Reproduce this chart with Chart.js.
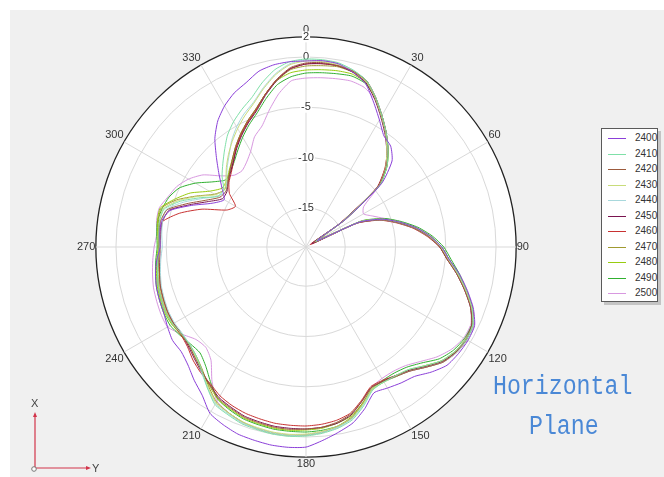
<!DOCTYPE html>
<html>
<head>
<meta charset="utf-8">
<script src="https://cdn.jsdelivr.net/npm/chart.js@4.4.1/dist/chart.umd.min.js"></script>
<style>
html, body { margin: 0; padding: 0; width: 664px; height: 477px; overflow: hidden; background: #fff; font-family: "Liberation Sans", Arial, sans-serif; }
#panel { position: absolute; left: 10px; top: 10px; width: 654px; height: 467px; background: #f0f0f0; }
#wrap { position: absolute; left: 74px; top: 21px; width: 458px; height: 452px; }
#legend { position: absolute; left: 601px; top: 128px; width: 55px; height: 172px; background: #fff; border: 1px solid #5a5a5a; box-shadow: 3px 3px 0 #c4c4c4; }
.row { position: absolute; left: 0; width: 55px; height: 15px; }
.row i { position: absolute; left: 6px; top: 7px; width: 18px; height: 0; border-top: 1px solid; }
.row span { position: absolute; left: 33px; top: 1px; font-size: 10px; color: #333; }
.tag { position: absolute; font-family: "Liberation Mono", monospace; font-size: 27px; line-height: 27px; color: #4a88d6; transform: scaleX(0.86); transform-origin: left top; white-space: nowrap; }
.ax { position: absolute; font-size: 11px; color: #444; }
</style>
</head>
<body>
<div id="panel"></div>
<div id="wrap"><canvas id="polar"></canvas></div>
<div id="legend"></div>
<div class="tag" style="left:493px; top:374px;">Horizontal</div>
<div class="tag" style="left:529px; top:414px;">Plane</div>
<svg style="position:absolute; left:0; top:0;" width="120" height="477">
  <line x1="35" y1="468" x2="35" y2="415" stroke="#d2344a" stroke-width="1.2"/>
  <polygon points="35,412 33,417 37,417" fill="#d2344a"/>
  <line x1="35" y1="468" x2="87" y2="468" stroke="#d2344a" stroke-width="1.2"/>
  <polygon points="91,468 86,466 86,470" fill="#d2344a"/>
  <circle cx="34" cy="469" r="2.3" fill="#fff" stroke="#777" stroke-width="1"/>
</svg>
<div class="ax" style="left:31px; top:397px;">X</div>
<div class="ax" style="left:92px; top:462px;">Y</div>
<script>
// angle categories (degrees, clockwise from top)
const angleLabels = [
  0, 5, 10, 15, 20, 25, 30, 35, 40, 45, 50, 55,
  60, 65, 70, 75, 80, 85, 90, 95, 100, 105, 110, 115,
  120, 125, 130, 135, 140, 145, 150, 155, 160, 165, 170, 175,
  180, 185, 190, 195, 200, 205, 210, 215, 220, 225, 230, 235,
  240, 245, 250, 255, 260, 265, 270, 275, 280, 285, 290, 295,
  300, 305, 310, 315, 320, 325, 330, 335, 340, 345, 350, 355
];

// radial axis (dB)
const rMin = -18.9;
const rMax = 2;
const tickValues = [-15, -10, -5, 0, 2];

const seriesNames = ['2400', '2410', '2420', '2430', '2440', '2450', '2460', '2470', '2480', '2490', '2500'];
const seriesColors = ['#8b3fd9', '#7fe0a8', '#9c5a3c', '#c8dc7a', '#a8d8dc', '#7a1450', '#c83232', '#a09a30', '#98cc10', '#30b030', '#d898e0'];

const s2400 = [
  -0.4, -0.3, -0.4, -0.9, -1.6, -3.0, -4.3, -5.4, -5.8, -6.8, -9.1, -14.0,
  -17.6, -13.0, -10.8, -9.3, -7.8, -6.5, -5.4, -4.6, -3.4, -2.3, -1.2, -0.4,
  -0.3, -0.4, -0.6, -1.3, -2.1, -2.4, -2.7, -2.9, -1.8, -0.8, -0.2, 0.4,
  1.0, 1.1, 1.1, 1.0, 0.9, 0.6, 0.2, -0.9, -1.6, -2.3, -2.7, -2.7,
  -3.0, -3.3, -3.4, -3.5, -3.7, -4.0, -4.4, -4.3, -4.3, -4.9, -6.8, -8.6,
  -9.5, -8.7, -7.6, -6.3, -4.8, -3.6, -2.7, -2.0, -1.5, -0.8, -0.5, -0.4
];
const s2410 = [
  -0.2, -0.2, -0.3, -0.7, -1.3, -2.5, -3.8, -5.0, -6.2, -7.5, -9.3, -14.4,
  -17.8, -12.9, -10.8, -9.3, -7.8, -6.5, -5.4, -4.6, -3.5, -2.4, -1.3, -0.6,
  -0.5, -0.8, -1.3, -2.2, -3.0, -3.3, -3.4, -3.2, -2.1, -1.1, -0.6, -0.3,
  -0.1, 0.0, 0.0, -0.1, -0.2, -0.5, -0.8, -1.8, -2.8, -3.5, -3.8, -3.8,
  -3.6, -3.5, -3.6, -3.7, -3.9, -4.1, -4.3, -4.2, -4.1, -4.3, -5.6, -7.3,
  -8.8, -8.9, -8.0, -7.2, -6.3, -5.3, -4.5, -3.8, -3.1, -2.0, -1.0, -0.4
];
const s2420 = [
  -0.6, -0.5, -0.6, -0.8, -1.3, -2.5, -3.8, -5.0, -6.2, -7.6, -9.5, -14.5,
  -18.0, -13.2, -11.0, -9.5, -8.0, -6.7, -5.6, -4.8, -3.7, -2.6, -1.5, -0.7,
  -0.5, -0.7, -1.1, -2.0, -2.8, -3.2, -3.5, -3.5, -2.6, -1.7, -1.2, -0.9,
  -0.8, -0.7, -0.7, -0.8, -0.9, -1.2, -1.5, -2.2, -2.8, -3.3, -3.7, -3.8,
  -3.7, -3.7, -3.8, -3.9, -4.1, -4.2, -4.3, -4.2, -4.2, -4.6, -6.3, -7.9,
  -9.0, -9.2, -8.8, -8.2, -7.5, -6.7, -5.9, -5.1, -4.3, -3.2, -2.0, -1.0
];
const s2430 = [
  -0.4, -0.4, -0.5, -0.8, -1.4, -2.6, -3.9, -5.1, -6.4, -7.7, -9.5, -14.2,
  -17.4, -12.9, -10.9, -9.4, -7.9, -6.6, -5.5, -4.7, -3.6, -2.5, -1.4, -0.6,
  -0.6, -0.8, -1.3, -2.2, -3.0, -3.3, -3.4, -3.3, -2.3, -1.3, -0.8, -0.5,
  -0.3, -0.2, -0.2, -0.3, -0.4, -0.7, -1.0, -1.9, -2.8, -3.4, -3.7, -3.8,
  -3.6, -3.6, -3.7, -3.8, -4.0, -4.2, -4.4, -4.3, -4.1, -4.2, -5.4, -7.0,
  -8.5, -9.0, -8.5, -7.7, -6.9, -6.1, -5.3, -4.5, -3.7, -2.6, -1.5, -0.7
];
const s2440 = [
  -0.3, -0.3, -0.4, -0.7, -1.3, -2.5, -3.8, -5.0, -6.3, -7.6, -9.4, -14.4,
  -17.6, -13.1, -11.0, -9.5, -8.0, -6.7, -5.5, -4.7, -3.6, -2.5, -1.4, -0.5,
  -0.4, -0.6, -1.1, -2.0, -2.8, -3.2, -3.4, -3.3, -2.2, -1.2, -0.7, -0.4,
  -0.2, -0.1, -0.1, -0.2, -0.3, -0.6, -0.9, -1.8, -2.7, -3.4, -3.8, -3.9,
  -3.8, -3.8, -3.9, -4.0, -4.2, -4.4, -4.6, -4.5, -4.4, -4.5, -5.9, -7.5,
  -8.8, -9.2, -8.6, -7.8, -7.0, -6.0, -5.1, -4.3, -3.6, -2.5, -1.4, -0.6
];
const s2450 = [
  -0.7, -0.6, -0.6, -0.9, -1.5, -2.7, -4.0, -5.2, -6.4, -7.7, -9.6, -14.6,
  -18.2, -13.2, -11.0, -9.5, -8.0, -6.7, -5.6, -4.8, -3.7, -2.6, -1.5, -0.7,
  -0.6, -0.7, -1.2, -2.1, -2.9, -3.3, -3.5, -3.5, -2.6, -1.6, -1.1, -0.9,
  -0.8, -0.8, -0.8, -0.9, -1.0, -1.3, -1.6, -2.2, -2.7, -3.2, -3.6, -3.8,
  -3.7, -3.7, -3.8, -3.9, -4.1, -4.3, -4.4, -4.4, -4.4, -4.8, -6.6, -8.2,
  -9.3, -9.3, -8.8, -8.3, -7.7, -6.9, -6.1, -5.3, -4.5, -3.3, -2.1, -1.1
];
const s2460 = [
  -0.7, -0.6, -0.6, -0.8, -1.3, -2.5, -3.8, -5.0, -6.3, -7.8, -9.7, -14.8,
  -18.4, -13.3, -11.1, -9.6, -8.1, -6.8, -5.6, -4.8, -3.6, -2.4, -1.3, -0.5,
  -0.4, -0.6, -1.1, -2.0, -2.8, -3.3, -3.6, -3.6, -2.7, -1.8, -1.4, -1.2,
  -1.1, -1.1, -1.1, -1.2, -1.3, -1.5, -1.8, -2.3, -2.6, -3.0, -3.5, -3.7,
  -3.6, -3.6, -3.7, -3.8, -4.0, -4.2, -4.3, -4.3, -4.4, -5.9, -7.9, -10.2,
  -10.8, -9.6, -8.9, -8.4, -7.7, -6.8, -6.0, -5.2, -4.4, -3.2, -2.0, -1.1
];
const s2470 = [
  -0.9, -0.8, -0.7, -0.9, -1.4, -2.6, -3.9, -5.1, -6.3, -7.6, -9.4, -14.2,
  -17.3, -12.9, -10.8, -9.3, -7.8, -6.5, -5.4, -4.6, -3.5, -2.4, -1.3, -0.6,
  -0.5, -0.7, -1.2, -2.1, -2.9, -3.3, -3.5, -3.4, -2.4, -1.4, -0.8, -0.4,
  -0.2, -0.1, -0.1, -0.2, -0.4, -0.7, -1.1, -2.0, -2.9, -3.5, -3.8, -3.8,
  -3.6, -3.5, -3.6, -3.7, -3.9, -4.1, -4.3, -4.2, -4.0, -4.0, -5.2, -6.9,
  -8.4, -9.0, -8.7, -8.2, -7.6, -6.8, -6.0, -5.2, -4.4, -3.2, -2.1, -1.2
];
const s2480 = [
  -1.3, -1.2, -1.1, -1.1, -1.5, -2.6, -3.9, -5.1, -6.2, -7.5, -9.3, -14.0,
  -17.2, -12.8, -10.8, -9.3, -7.8, -6.5, -5.4, -4.6, -3.5, -2.4, -1.3, -0.6,
  -0.5, -0.8, -1.3, -2.2, -2.9, -3.2, -3.4, -3.3, -2.4, -1.5, -1.1, -0.8,
  -0.7, -0.6, -0.6, -0.7, -0.8, -1.1, -1.4, -2.1, -2.8, -3.4, -3.7, -3.7,
  -3.5, -3.4, -3.5, -3.6, -3.8, -4.0, -4.2, -4.1, -3.9, -3.9, -5.0, -6.2,
  -7.8, -8.7, -8.6, -8.1, -7.5, -6.7, -5.9, -5.1, -4.3, -3.2, -2.1, -1.5
];
const s2490 = [
  -1.6, -1.5, -1.4, -1.3, -1.6, -2.6, -3.8, -5.0, -6.2, -7.5, -9.3, -14.1,
  -17.4, -12.7, -10.6, -9.1, -7.6, -6.3, -5.2, -4.4, -3.4, -2.4, -1.4, -0.7,
  -0.7, -1.0, -1.6, -2.6, -3.3, -3.6, -3.6, -3.3, -2.3, -1.3, -0.8, -0.6,
  -0.5, -0.5, -0.5, -0.6, -0.7, -1.0, -1.4, -2.4, -3.4, -4.0, -3.9, -3.6,
  -3.3, -3.3, -3.4, -3.5, -3.7, -3.9, -4.1, -4.0, -3.9, -4.1, -4.4, -5.0,
  -6.2, -7.6, -8.5, -8.3, -7.8, -7.1, -6.3, -5.5, -4.7, -3.6, -2.5, -1.9
];
const s2500 = [
  -2.1, -2.0, -1.9, -1.8, -2.0, -2.7, -3.9, -5.1, -6.3, -7.6, -9.4, -11.9,
  -12.3, -11.6, -10.6, -9.2, -7.8, -6.5, -5.4, -4.6, -3.6, -2.5, -1.5, -0.8,
  -0.8, -1.2, -1.9, -2.8, -3.5, -3.8, -3.8, -3.5, -2.4, -1.3, -0.7, -0.4,
  -0.2, -0.1, -0.1, -0.2, -0.3, -0.7, -1.2, -2.6, -4.2, -4.8, -4.6, -3.8,
  -3.0, -3.0, -3.1, -3.2, -3.4, -3.6, -3.8, -4.0, -3.8, -3.8, -4.3, -4.7,
  -5.4, -6.4, -7.9, -8.8, -9.0, -8.6, -7.9, -6.8, -6.1, -4.8, -3.4, -2.3
];

const seriesData = [s2400, s2410, s2420, s2430, s2440, s2450, s2460, s2470, s2480, s2490, s2500];

Chart.defaults.font.family = '"Liberation Sans", Arial, sans-serif';

// legend box
const legendBox = document.getElementById('legend');
seriesNames.forEach((name, i) => {
    const row = document.createElement('div');
    row.className = 'row';
    row.style.top = (2 + i * 15.5) + 'px';
    row.innerHTML = '<i style="border-color:' + seriesColors[i] + '"></i><span>' + name + '</span>';
    legendBox.appendChild(row);
});

const datasets = seriesNames.map((name, i) => ({
    label: name,
    data: seriesData[i],
    borderColor: seriesColors[i],
    borderWidth: 1,
    pointRadius: 0,
    fill: false,
    tension: 0.2
}));

new Chart(document.getElementById('polar'), {
    type: 'radar',
    data: { labels: angleLabels, datasets: datasets },
    options: {
        responsive: true,
        maintainAspectRatio: false,
        animation: false,
        layout: { padding: 0 },
        plugins: { legend: { display: false }, tooltip: { enabled: false } },
        scales: {
            r: {
                min: rMin,
                max: rMax,
                backgroundColor: '#ffffff',
                afterBuildTicks: scale => {
                    scale.ticks = tickValues.map(v => ({ value: v }));
                },
                grid: {
                    circular: true,
                    color: ctx => (ctx.tick && ctx.tick.value === rMax) ? '#222222' : '#d9d9d9',
                    lineWidth: ctx => (ctx.tick && ctx.tick.value === rMax) ? 1.3 : 1
                },
                angleLines: {
                    color: ctx => ctx.index % 6 === 0 ? '#d9d9d9' : 'rgba(0,0,0,0)',
                    lineWidth: ctx => ctx.index % 6 === 0 ? 1 : 0
                },
                pointLabels: {
                    callback: (label, index) => index % 6 === 0 ? String(label) : '',
                    font: { size: 11 },
                    color: '#333',
                    padding: -5
                },
                ticks: {
                    font: { size: 11 },
                    color: '#333',
                    backdropColor: '#ffffff',
                    backdropPadding: { x: 1, y: 0 }
                }
            }
        }
    }
});
</script>
</body>
</html>
